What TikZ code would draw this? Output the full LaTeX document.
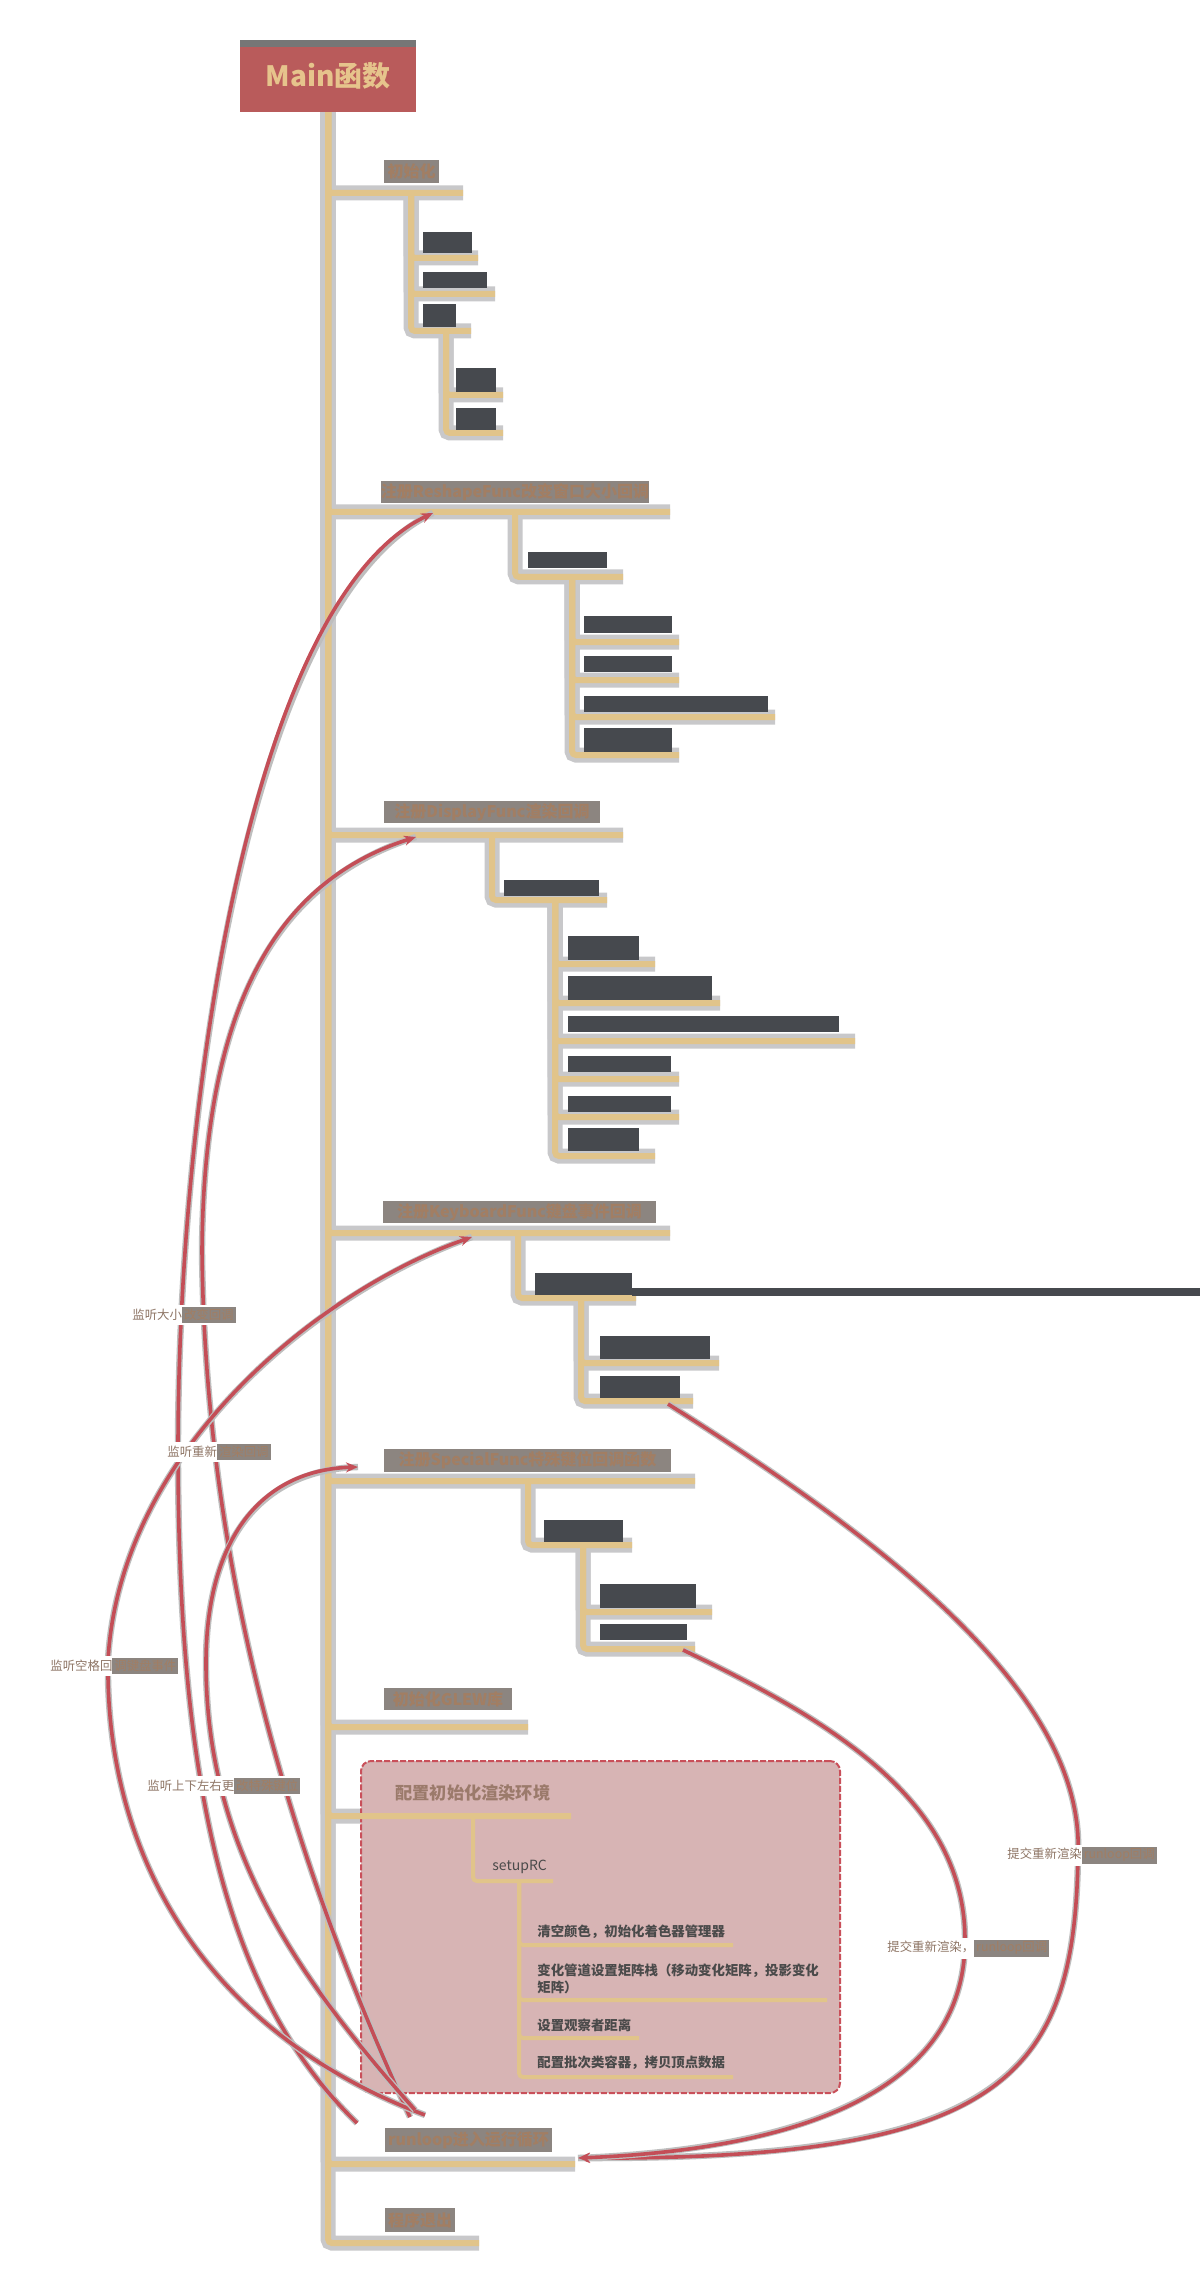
\documentclass[tikz,border=0pt]{standalone}
\usepackage{fontspec}
\newfontfamily\cjk{Noto Sans CJK SC}
\usetikzlibrary{arrows.meta}

\definecolor{treetan}{HTML}{E1C48A}
\definecolor{treehalo}{HTML}{C8C8CA}
\definecolor{rootred}{HTML}{B95B5B}
\definecolor{roottext}{HTML}{E6C48C}
\definecolor{stripgray}{HTML}{767676}
\definecolor{boxdark}{HTML}{46494E}
\definecolor{redgray}{HTML}{8C8580}
\definecolor{headbrown}{HTML}{A27E63}
\definecolor{pinkfill}{HTML}{D7B4B4}
\definecolor{pinkedge}{HTML}{C9505A}
\definecolor{curvered}{HTML}{C44E57}
\definecolor{curvehalo}{HTML}{BEBEBE}
\definecolor{labtext}{HTML}{8E7565}
\definecolor{cfgtext}{HTML}{4A4A4A}
\definecolor{cfghead}{HTML}{9B7A6B}

% hidden box: name, x1, y1, x2, y2
\newcommand\redact[5]{\node[darkbox,minimum width={(#4-#2)*0.5pt},minimum height={(#5-#3)*0.5pt}] (#1) at ({(#2+#4)/2},{(#3+#5)/2}) {};}
% heading: name, x1, y1, x2, y2, text
\newcommand\heading[6]{\node[headbox,minimum width={(#4-#2)*0.5pt},minimum height={(#5-#3)*0.5pt}] (#1) at ({(#2+#4)/2},{(#3+#5)/2}) {#6};}
\newcommand\hidpart[1]{{\fboxsep=1pt\colorbox{redgray}{\textcolor{headbrown}{#1}}}}

\begin{document}
\begin{tikzpicture}[x=0.5pt,y=-0.5pt,
  halo/.style={draw=treehalo,line width=7.5pt,rounded corners=2pt},
  twig/.style={draw=treetan,line width=3pt,rounded corners=2pt},
  darkbox/.style={fill=boxdark,inner sep=0pt},
  headbox/.style={fill=redgray,text=headbrown,inner sep=0pt,font=\cjk\bfseries\fontsize{8}{10}\selectfont},
  rootbox/.style={fill=rootred,text=roottext,inner sep=0pt,font=\cjk\bfseries\fontsize{14}{16}\selectfont},
  cfgbox/.style={fill=pinkfill,draw=pinkedge,line width=1pt,dash pattern=on 3pt off 1pt,rounded corners=5pt,inner sep=0pt},
  cfgitem/.style={anchor=west,inner sep=0pt,text=cfgtext,align=left,font=\cjk\bfseries\fontsize{6.7}{8.5}\selectfont},
  link/.style={draw=curvered,line width=1.8pt,-{Stealth[length=6pt,width=5pt]},
    preaction={draw=curvehalo,line width=3.2pt,arrows=-}},
  lab/.style={anchor=west,fill=white,inner sep=1pt,text=labtext,font=\cjk\fontsize{6.2}{7}\selectfont}]

\fill[white] (0,0) rectangle (1200,2294);

% tree: parent x / parent y / own y / end x
\def\branches{328/110/193/463, 328/110/512/670, 328/110/835/623, 328/110/1233/670,
  328/110/1481/695, 328/110/1727/528, 328/110/1816/571, 328/110/2164/575, 328/110/2243/479,
  411/193/258/478, 411/193/294/495, 411/193/331/471, 446/331/395/503, 446/331/433/503,
  515/512/577/623, 572/577/642/679, 572/577/680/679, 572/577/717/775, 572/577/755/679,
  492/835/900/607, 555/900/964/655, 555/900/1003/720, 555/900/1041/855, 555/900/1079/679,
  555/900/1117/679, 555/900/1156/655,
  518/1233/1298/636, 581/1298/1363/719, 581/1298/1401/693,
  528/1481/1545/632, 583/1545/1612/712, 583/1545/1649/695}
\def\cfgbranches{473/1816/1881/553, 519/1881/1945/733, 519/1881/2000/827,
  519/1881/2038/639, 519/1881/2077/733}

\foreach \xv/\yp/\y/\xe in \branches
  \draw[halo] (\xv,\yp) -- (\xv,\y) -- (\xe,\y);

\node[cfgbox,minimum width=239.5pt,minimum height=166pt] (cfg) at (600.5,1927) {};

\foreach \xv/\yp/\y/\xe in \branches
  \draw[twig] (\xv,\yp) -- (\xv,\y) -- (\xe,\y);
\foreach \xv/\yp/\y/\xe in \cfgbranches
  \draw[twig,line width=2pt] (\xv,\yp) -- (\xv,\y) -- (\xe,\y);

% root
\node[rootbox,minimum width=88pt,minimum height=36pt] (main) at (328,76) {Main函数};
\fill[stripgray] (main.north west) rectangle ([yshift=-3.5pt]main.north east);

% headings
\heading{init}{384}{160}{439}{183}{初始化}
\heading{reshape}{383}{481}{647}{503}{注册ReshapeFunc改变窗口大小回调}
\heading{display}{384}{801}{600}{823}{注册DisplayFunc渲染回调}
\heading{keys}{383}{1201}{656}{1223}{注册KeyboardFunc键盘事件回调}
\heading{special}{384}{1449}{671}{1472}{注册SpecialFunc特殊键位回调函数}
\heading{glew}{384}{1688}{512}{1710}{初始化GLEW库}
\heading{runloop}{385}{2128}{552}{2152}{runloop进入运行循环}
\heading{quit}{385}{2208}{455}{2232}{程序退出}

% hidden leaves
\redact{i1}{423}{232}{472}{253}
\redact{i2}{423}{272}{487}{288}
\redact{i3}{423}{304}{456}{327}
\redact{i31}{456}{368}{496}{392}
\redact{i32}{456}{408}{496}{430}
\redact{r0}{528}{552}{607}{568}
\redact{r1}{584}{616}{672}{633}
\redact{r2}{584}{656}{672}{672}
\redact{r3}{584}{696}{768}{712}
\redact{r4}{584}{728}{672}{752}
\redact{d0}{504}{880}{599}{896}
\redact{d1}{568}{936}{639}{960}
\redact{d2}{568}{976}{712}{1000}
\redact{d3}{568}{1016}{839}{1032}
\redact{d4}{568}{1056}{671}{1072}
\redact{d5}{568}{1096}{671}{1112}
\redact{d6}{568}{1128}{639}{1151}
\redact{k0}{535}{1273}{632}{1295}
\redact{k1}{600}{1336}{710}{1359}
\redact{k2}{600}{1376}{680}{1398}
\redact{s0}{544}{1520}{623}{1542}
\redact{s1}{600}{1584}{696}{1608}
\redact{s2}{600}{1624}{687}{1640}
\fill[boxdark] (k0.east |- 0,1288) rectangle (1200,1296);

% render setup group
\node[anchor=west,inner sep=0pt,text=cfghead,font=\cjk\bfseries\fontsize{8.6}{10}\selectfont] (cfghd) at (395,1793) {配置初始化渲染环境};
\node[anchor=west,inner sep=0pt,text=cfgtext,font=\cjk\fontsize{7}{8}\selectfont] (setup) at (492,1867) {setupRC};
\node[cfgitem] (cf1) at (537,1932) {清空颜色，初始化着色器管理器};
\node[cfgitem] (cf2) at (537,1978.5) {变化管道设置矩阵栈（移动变化矩阵，投影变化\\矩阵）};
\node[cfgitem] (cf3) at (537,2025) {设置观察者距离};
\node[cfgitem] (cf4) at (537,2063) {配置批次类容器，拷贝顶点数据};

% callback links
\coordinate (a2) at (357,2123);
\coordinate (a3) at (410,2117);
\coordinate (a4) at (425,2115);
\coordinate (a5) at (415,2110);
\coordinate (t2) at (433,513);
\coordinate (t3) at (416,837);
\coordinate (t4) at (472,1237);
\coordinate (t5) at (358,1467);
\coordinate (b4) at (668,1404);
\coordinate (b5) at (683,1650);
\coordinate (t8) at (578,2158);

\draw[link] (a2) .. controls (230,2000) and (178,1800) .. (178,1450) .. controls (178,1100) and (250,600) .. (t2);
\draw[link] (a3) .. controls (310,1900) and (205,1600) .. (202,1250) .. controls (204,1000) and (280,880) .. (t3);
\draw[link] (a4) .. controls (200,2030) and (105,1850) .. (108,1660) .. controls (120,1450) and (320,1290) .. (t4);
\draw[link] (a5) .. controls (300,1980) and (205,1850) .. (206,1660) .. controls (207,1540) and (260,1470) .. (t5);
\draw[link] (b4) .. controls (900,1550) and (1085,1700) .. (1078,1855) .. controls (1075,2080) and (1000,2160) .. (t8);
\draw[link] (b5) .. controls (830,1720) and (965,1800) .. (965,1940) .. controls (965,2100) and (780,2150) .. (t8);

% link labels
\node[lab] (l2) at (130,1315) {监听大小\hidpart{改变回调}};
\node[lab] (l3) at (165,1452) {监听重新\hidpart{渲染回调}};
\node[lab] (l4) at (48,1666) {监听空格回\hidpart{调键盘事件}};
\node[lab] (l5) at (145,1786) {监听上下左右更\hidpart{改特殊键位}};
\node[lab] (l8) at (1005,1855) {提交重新渲染\hidpart{runloop回调}};
\node[lab] (l9) at (885,1948) {提交重新渲染，\hidpart{runloop回调}};
\end{tikzpicture}
\end{document}
